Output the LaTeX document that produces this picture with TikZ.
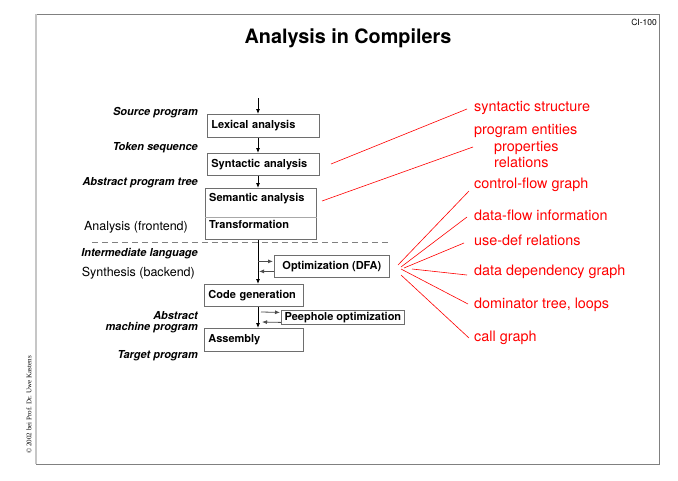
\documentclass[tikz,border=0pt]{standalone}
\usepackage{fontspec}
\setmainfont{TeX Gyre Heros}
\newfontfamily\copyfont{Liberation Serif}
\usetikzlibrary{arrows.meta}
\definecolor{slred}{RGB}{255,0,0}
\definecolor{boxgray}{RGB}{110,110,110}
\tikzset{
  box/.style={draw=boxgray, line width=0.8pt, anchor=north west, inner xsep=4pt, inner ysep=0pt, align=left, font=\fontsize{11}{13}\selectfont\bfseries},
  boxtext/.style={anchor=west, inner sep=0pt, font=\fontsize{11}{13}\selectfont\bfseries},
  lbl/.style={anchor=east, inner sep=0pt, font=\fontsize{11}{13}\selectfont\bfseries\itshape, align=right},
  plain/.style={anchor=east, inner sep=0pt, font=\fontsize{12.5}{14}\selectfont},
  redlbl/.style={anchor=west, inner sep=0pt, text=slred, font=\fontsize{14.4}{16}\selectfont},
  redline/.style={draw=slred, line width=0.6pt},
  arr/.style={draw=black, line width=0.8pt, -{Latex[length=5pt,width=4pt]}},
  sarr/.style={draw=black!70, line width=0.8pt, -{Latex[length=5pt,width=4pt]}, shorten >=1pt}
}
\begin{document}
\begin{tikzpicture}[x=1pt,y=-1pt]
\useasboundingbox (0,0) rectangle (678,480);
% frame
\draw[draw=gray, line width=1pt] (36,14) rectangle (659,464);
\draw[draw=gray!45, line width=2pt] (36,14) -- (36,464);
\node[inner sep=0pt, font=\fontsize{8.5}{10}\selectfont] (ci) at (644,22) {CI-100};
\node[inner sep=0pt, font=\fontsize{19.8}{23}\selectfont\bfseries] (title) at (348,38) {Analysis in Compilers};
\node[inner sep=0pt, rotate=90, font=\copyfont\fontsize{7}{8}\selectfont] (copy) at (29,405) {\copyright{} 2002 bei Prof. Dr. Uwe Kastens};

% boxes
\node[box, minimum width=112pt, minimum height=23pt, text width=104pt] (lex) at (207,114) {Lexical analysis};
\node[box, minimum width=112pt, minimum height=22pt, text width=104pt] (syn) at (207,153) {Syntactic analysis};
\node[box, minimum width=111pt, minimum height=51pt, text width=103pt] (sem) at (205,188) {};
\draw[draw=boxgray!60, line width=0.8pt] ([yshift=-29pt]sem.north west) -- ([yshift=-29pt]sem.north east);
\node[boxtext] (semt) at (209,199) {Semantic analysis};
\node[boxtext] (trans) at (209,224) {Transformation};
\node[box, align=center, minimum width=115pt, minimum height=22pt] (opt) at (274,255) {Optimization (DFA)};
\node[box, minimum width=99pt, minimum height=22pt, text width=91pt] (cg) at (204,284) {Code generation};
\node[box, align=center, minimum width=123pt, minimum height=14pt, inner xsep=2pt] (peep) at (281,310) {Peephole optimization};
\node[box, minimum width=99pt, minimum height=23pt, text width=91pt] (asm) at (204,328) {Assembly};

% dashed separator
\coordinate (d1) at (92,242);
\coordinate (d2) at (390,242);
\draw[draw=gray, line width=0.7pt, dash pattern=on 6pt off 4pt] (d1) -- (d2);

% main flow
\coordinate (in) at (258,98);
\draw[arr] (in) -- (in |- lex.north);
\draw[arr] (lex.south -| in) -- (syn.north -| in);
\draw[arr] (syn.south -| in) -- (sem.north -| in);
\draw[arr] (sem.south -| in) -- (cg.north -| in);
\draw[arr] (cg.south -| in) -- (asm.north -| in);
% optimization loop
\coordinate (o1) at ([yshift=5pt]opt.west);
\coordinate (o2) at ([yshift=-5pt]opt.west);
\draw[sarr] (o1 -| in) -- (o1);
\draw[sarr] (o2) -- (o2 -| in);
\coordinate (p1) at ([yshift=5pt]peep.west);
\coordinate (p2) at ([yshift=-5pt]peep.west);
\coordinate (q1) at (261,312);
\coordinate (q2) at (261,322);
\draw[sarr] (q1) -- (p1);
\draw[sarr] (p2) -- (q2);

% left labels
\node[lbl] (src) at (198,113) {Source program};
\node[lbl] (tok) at (198,148) {Token sequence};
\node[lbl] (apt) at (198,183) {Abstract program tree};
\node[plain] (ana) at (188,227) {Analysis (frontend)};
\node[lbl] (il) at (198,254) {Intermediate language};
\node[plain] (syn2) at (195,273) {Synthesis (backend)};
\node[lbl, font=\fontsize{11}{11.5}\selectfont\bfseries\itshape] (amp) at (198,322) {Abstract\\machine program};
\node[lbl] (tgt) at (198,356) {Target program};

% red labels
\node[redlbl] (r1) at (474,108) {syntactic structure};
\node[redlbl] (r2) at (474,131) {program entities};
\node[redlbl] (r3) at (494,148) {properties};
\node[redlbl] (r4) at (494,162) {relations};
\node[redlbl] (r5) at (474,185) {control-flow graph};
\node[redlbl] (r6) at (474,215) {data-flow information};
\node[redlbl] (r7) at (474,240) {use-def relations};
\node[redlbl] (r8) at (474,272) {data dependency graph};
\node[redlbl] (r9) at (474,305) {dominator tree, loops};
\node[redlbl] (r10) at (474,338) {call graph};

% red lines
\coordinate (s1) at (331,164); \coordinate (e1) at (467,109);
\coordinate (s2) at (322,201); \coordinate (e2) at (473,147);
\coordinate (f5) at (398,265); \coordinate (e5) at (469,191);
\coordinate (f6) at (401,267); \coordinate (e6) at (467,217);
\coordinate (f7) at (404,268); \coordinate (e7) at (464,243);
\coordinate (f8) at (412,269); \coordinate (e8) at (467,275);
\coordinate (f9) at (401,269); \coordinate (e9) at (468,304);
\coordinate (f10) at (401,275); \coordinate (e10) at (469,338);
\foreach \a/\b in {s1/e1,s2/e2,f5/e5,f6/e6,f7/e7,f8/e8,f9/e9,f10/e10}
  \draw[redline] (\a) -- (\b);
\end{tikzpicture}
\end{document}
